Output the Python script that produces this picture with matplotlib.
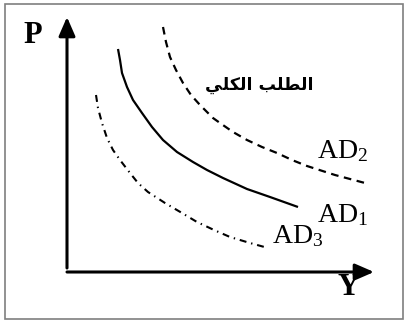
import matplotlib
matplotlib.use("Agg")
import matplotlib.pyplot as plt
from matplotlib.patches import Rectangle

plt.rcParams['mathtext.fontset'] = 'custom'
plt.rcParams['mathtext.rm'] = 'Liberation Serif'
plt.rcParams['mathtext.it'] = 'Liberation Serif:italic'
plt.rcParams['lines.scale_dashes'] = False

# ---- data (output Y, price P) ----
ad1_y = [51, 53, 55, 60, 66, 75, 85, 96, 110, 126, 140, 156, 180, 203, 231]
ad1_p = [223, 212, 199, 185, 172, 159, 145, 132, 120, 110, 102, 94, 83, 75, 65]

ad2_y = [96, 99, 103, 109, 116, 124, 133, 146, 153, 166, 180, 195, 210, 225, 240, 268, 298]
ad2_p = [245, 230, 215, 202, 189, 177, 167, 154, 149, 140, 132, 125, 119, 112, 106, 97, 89]

ad3_y = [29, 31, 35, 40, 46, 53, 63, 71, 81, 98, 115, 130, 147, 163, 183, 201]
ad3_p = [177, 164, 149, 134, 122, 112, 99, 89, 80, 69, 59, 50, 42, 35, 29, 24]

curve_labels = [r'$\mathrm{AD}_1$', r'$\mathrm{AD}_2$', r'$\mathrm{AD}_3$']
title_ar = "الطلب الكلي"
axis_p = "P"
axis_y = "Y"


def shape_arabic(s):
    """Minimal Arabic shaping (presentation forms) + visual reordering."""
    forms = {  # isolated, final, initial, medial
        'ا': ('\uFE8D', '\uFE8E', None, None),
        'ب': ('\uFE8F', '\uFE90', '\uFE91', '\uFE92'),
        'ط': ('\uFEC1', '\uFEC2', '\uFEC3', '\uFEC4'),
        'ك': ('\uFED9', '\uFEDA', '\uFEDB', '\uFEDC'),
        'ل': ('\uFEDD', '\uFEDE', '\uFEDF', '\uFEE0'),
        'ي': ('\uFEF1', '\uFEF2', '\uFEF3', '\uFEF4'),
    }
    dual = lambda c: c in forms and forms[c][2] is not None
    out = []
    for i, c in enumerate(s):
        if c not in forms:
            out.append(c)
            continue
        prev = s[i - 1] if i > 0 else ''
        nxt = s[i + 1] if i + 1 < len(s) else ''
        jp = dual(prev)
        jn = dual(c) and nxt in forms
        if jp and jn:
            out.append(forms[c][3])
        elif jp:
            out.append(forms[c][1])
        elif jn:
            out.append(forms[c][2])
        else:
            out.append(forms[c][0])
    return ''.join(reversed(out))


fig = plt.figure(figsize=(4.05, 3.24), dpi=100)
ax = fig.add_axes([0, 0, 1, 1])
ax.set_xlim(-67, 338)
ax.set_ylim(-52, 272)
ax.axis('off')

# frame
fig.add_artist(Rectangle((5 / 405, 5 / 324), 398 / 405, 315 / 324,
                         transform=fig.transFigure, fill=False,
                         edgecolor='#7f7f7f', linewidth=1.2))

# axes arrows
arrow_kw = dict(arrowstyle='-|>,head_length=1.15,head_width=0.5',
                lw=2.2, color='black', mutation_scale=10,
                shrinkA=0, shrinkB=0)
ax.annotate('', xy=(0, 255), xytext=(0, 4), arrowprops=arrow_kw)
ax.annotate('', xy=(307, 0), xytext=(0, 0), arrowprops=arrow_kw)

# curves
ax.plot(ad1_y, ad1_p, color='black', lw=1.6, solid_capstyle='butt',
        solid_joinstyle='round')
ax.plot(ad2_y, ad2_p, color='black', lw=1.6, dashes=(5.5, 4))
ax.plot(ad3_y, ad3_p, color='black', lw=1.5, dashes=(5, 3.5, 1, 3.5))

serif = 'Liberation Serif'
ax.text(-34, 229, axis_p, fontsize=22, fontweight='bold', family=serif,
        ha='center', va='baseline')
ax.text(281, -23, axis_y, fontsize=22, fontweight='bold', family=serif,
        ha='center', va='baseline')

ax.text(250, 50, curve_labels[0], fontsize=20, ha='left', va='baseline')
ax.text(250, 114, curve_labels[1], fontsize=20, ha='left', va='baseline')
ax.text(205, 29, curve_labels[2], fontsize=20, ha='left', va='baseline')

ax.text(192, 187, shape_arabic(title_ar), fontsize=12.5, fontweight='bold',
        family=['DejaVu Sans'], ha='center', va='center')

fig.savefig('out.png', dpi=100)
